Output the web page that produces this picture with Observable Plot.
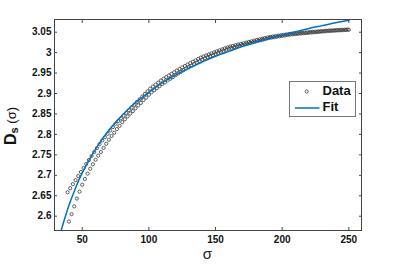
<!DOCTYPE html>
<html><head><meta charset="utf-8">
<script src="https://cdn.jsdelivr.net/npm/d3@7"></script>
<script src="https://cdn.jsdelivr.net/npm/@observablehq/plot@0.6"></script>
<style>
body{margin:0;background:#fff;}
#wrap{position:relative;width:399px;height:264px;font-family:"Liberation Sans",Arial,sans-serif;}
#legend{position:absolute;left:289px;top:81px;}
</style></head><body><div id="wrap"></div>
<script>
const sigma = [
 39,40,41,42,43,44,45,46,47,48,49,50,51,52,53,54,55,56,57,58,59,60,
 61,62,63,64,65,66,67,68,69,70,71,72,73,74,75,76,77,78,79,80,
 81,82,83,84,85,86,87,88,89,90,91,92,93,94,95,96,97,98,99,100,
 101,102,103,104,105,106,107,108,109,110,111,112,113,114,115,116,117,118,119,120,
 121,122,123,124,125,126,127,128,129,130,131,132,133,134,135,136,137,138,139,140,
 141,142,143,144,145,146,147,148,149,150,151,152,153,154,155,156,157,158,159,160,
 161,162,163,164,165,166,167,168,169,170,171,172,173,174,175,176,177,178,179,180,
 181,182,183,184,185,186,187,188,189,190,191,192,193,194,195,196,197,198,199,200,
 201,202,203,204,205,206,207,208,209,210,211,212,213,214,215,216,217,218,219,220,
 221,222,223,224,225,226,227,228,229,230,231,232,233,234,235,236,237,238,239,240,
 241,242,243,244,245,246,247,248,249,250
];
const dsData = [
 2.6585,2.587,2.6684,2.605,2.6783,2.624,2.6882,2.643,2.6981,2.660,2.7080,2.677,
 2.7179,2.691,2.7276,2.704,2.7373,2.716,2.7470,2.727,2.7567,2.738,
 2.7664,2.748,2.7761,2.757,2.7851,2.767,2.7933,2.777,2.8015,2.787,
 2.8097,2.796,2.8179,2.804,2.826,2.813,2.8327,2.821,2.8393,2.830,
 2.846,2.837,2.8527,2.844,2.8593,2.851,2.866,2.857,2.8727,2.864,
 2.8793,2.871,2.8858,2.877,2.8924,2.884,2.8989,2.890,2.9055,2.897,
 2.912,2.903,2.9169,2.908,2.9218,2.913,2.9266,2.918,2.9316,2.923,
 2.936,2.927,2.940,2.932,2.944,2.936,2.948,2.940,2.952,2.945,
 2.956,2.949,2.960,2.953,2.964,2.957,2.9674,2.961,2.9709,2.964,
 2.9743,2.968,2.9777,2.972,2.9811,2.975,2.9846,2.979,2.988,2.983,
 2.9905,2.986,2.9931,2.989,2.9956,2.991,2.9982,2.994,3.0007,2.997,
 3.0032,2.9995,3.0056,3.002,3.008,3.0045,3.0104,3.007,3.0128,3.010,
 3.0148,3.0118,3.0164,3.0135,3.0181,3.0152,3.0197,3.017,3.0213,3.0186,
 3.0229,3.0203,3.0246,3.022,3.0262,3.0237,3.0278,3.0254,3.0294,3.027,
 3.0309,3.0287,3.0325,3.0304,3.0341,3.0321,3.0356,3.0337,3.0372,3.0354,
 3.0385,3.0365,3.0395,3.0376,3.0405,3.0387,3.0415,3.0398,3.0425,3.0408,
 3.0435,3.0419,3.0445,3.043,3.0455,3.044,3.0463,3.0447,3.0469,3.0453,
 3.0474,3.046,3.048,3.0466,3.0486,3.0473,3.0491,3.0479,3.0497,3.0485,
 3.0503,3.0491,3.0508,3.0497,3.0513,3.0503,3.0519,3.0509,3.0524,3.0515,
 3.0529,3.0521,3.0535,3.0527,3.054,3.0532,3.0543,3.0535,3.0547,3.0539,
 3.055,3.0543,3.0554,3.0547,3.0557,3.0551,3.0561,3.0555,3.0564,3.0559
];
const fitSigma = [34,35,40,45,50,60,70,80,90,100,110,120,130,140,150,160,170,180,190,200,210,220,230,240,250];
const fitD = [2.562,2.574,2.626,2.669,2.706,2.764,2.810,2.847,2.878,2.903,2.926,2.945,2.962,2.977,2.991,3.003,3.015,3.025,3.0345,3.043,3.051,3.059,3.066,3.073,3.079];
const xTicks = [50,100,150,200,250];
const yTicks = [2.6,2.65,2.7,2.75,2.8,2.85,2.9,2.95,3,3.05];
const xLabel = "σ";
const seriesNames = ["Data","Fit"];

const points = sigma.map((s,i)=>({s, d: dsData[i]}));
const fit = fitSigma.map((s,i)=>({s, d: fitD[i]}));
const fmt = d => String(d);
const noText = () => "";
const axisColor = "#444";

const plot = Plot.plot({
  width: 399, height: 264,
  marginLeft: 54, marginRight: 38, marginTop: 19, marginBottom: 34,
  x: {domain: [29.2, 259.5]},
  y: {domain: [2.565, 3.081]},
  style: {fontFamily: "'Liberation Sans', Arial, sans-serif", fontSize: "10px", fontWeight: "bold", color: "#111", background: "white", overflow: "visible"},
  marks: [
    Plot.dot(points, {x: "s", y: "d", r: 1.6, stroke: "#3a3a3a", strokeWidth: 0.8, fill: "none"}),
    Plot.line(fit, {x: "s", y: "d", stroke: "#0072BD", strokeWidth: 1.5, curve: "natural", clip: true}),
    Plot.frame({stroke: axisColor, strokeWidth: 1}),
    Plot.axisX(xTicks, {anchor: "bottom", tickSize: 0, tickPadding: 5, tickFormat: fmt, label: null, fill: "#111"}),
    Plot.axisX(xTicks, {anchor: "bottom", tickSize: -3, tickFormat: noText, label: null, stroke: axisColor}),
    Plot.axisX(xTicks, {anchor: "top", tickSize: -3, tickFormat: noText, label: null, stroke: axisColor}),
    Plot.axisY(yTicks, {anchor: "left", tickSize: 0, tickPadding: 3, tickFormat: fmt, label: null, fill: "#111"}),
    Plot.axisY(yTicks, {anchor: "left", tickSize: -3, tickFormat: noText, label: null, stroke: axisColor}),
    Plot.axisY(yTicks, {anchor: "right", tickSize: -3, tickFormat: noText, label: null, stroke: axisColor})
  ]
});
const wrap = document.getElementById("wrap");
wrap.appendChild(plot);

const NS = "http://www.w3.org/2000/svg";
// x label
const xl = document.createElementNS(NS, "text");
xl.setAttribute("x", 207.5); xl.setAttribute("y", 255);
xl.setAttribute("text-anchor", "middle"); xl.setAttribute("dominant-baseline", "middle");
xl.setAttribute("font-size", "15"); xl.setAttribute("font-weight", "normal"); xl.setAttribute("fill", "#222");
xl.textContent = xLabel;
plot.appendChild(xl);
// y label
const yl = document.createElementNS(NS, "text");
yl.setAttribute("transform", "translate(16,126) rotate(-90)");
yl.setAttribute("text-anchor", "middle");
yl.setAttribute("fill", "#111");
const t1 = document.createElementNS(NS, "tspan"); t1.setAttribute("font-size","16"); t1.setAttribute("font-weight","bold"); t1.textContent = "D";
const t2 = document.createElementNS(NS, "tspan"); t2.setAttribute("font-size","11"); t2.setAttribute("font-weight","bold"); t2.setAttribute("dy","2"); t2.textContent = "s";
const t3 = document.createElementNS(NS, "tspan"); t3.setAttribute("font-size","13"); t3.setAttribute("font-weight","normal"); t3.setAttribute("dy","-2"); t3.textContent = " (σ)";
yl.append(t1, t2, t3);
plot.appendChild(yl);

// legend
const lg = document.createElement("div");
lg.id = "legend";
lg.innerHTML = `<svg width="68" height="37" xmlns="${NS}" style="display:block">
  <rect x="0.5" y="0.5" width="66" height="35" fill="white" stroke="#777" stroke-width="1"/>
  <circle cx="17.7" cy="10.5" r="1.6" fill="none" stroke="#3a3a3a" stroke-width="0.8"/>
  <line x1="6" y1="27" x2="30.5" y2="27" stroke="#0072BD" stroke-width="1.5"/>
  <text x="33.5" y="10.5" dominant-baseline="middle" font-family="'Liberation Sans', Arial, sans-serif" font-size="13" font-weight="bold" fill="#111">${seriesNames[0]}</text>
  <text x="33.5" y="27" dominant-baseline="middle" font-family="'Liberation Sans', Arial, sans-serif" font-size="13" font-weight="bold" fill="#111">${seriesNames[1]}</text>
</svg>`;
wrap.appendChild(lg);
</script>
</body></html>
